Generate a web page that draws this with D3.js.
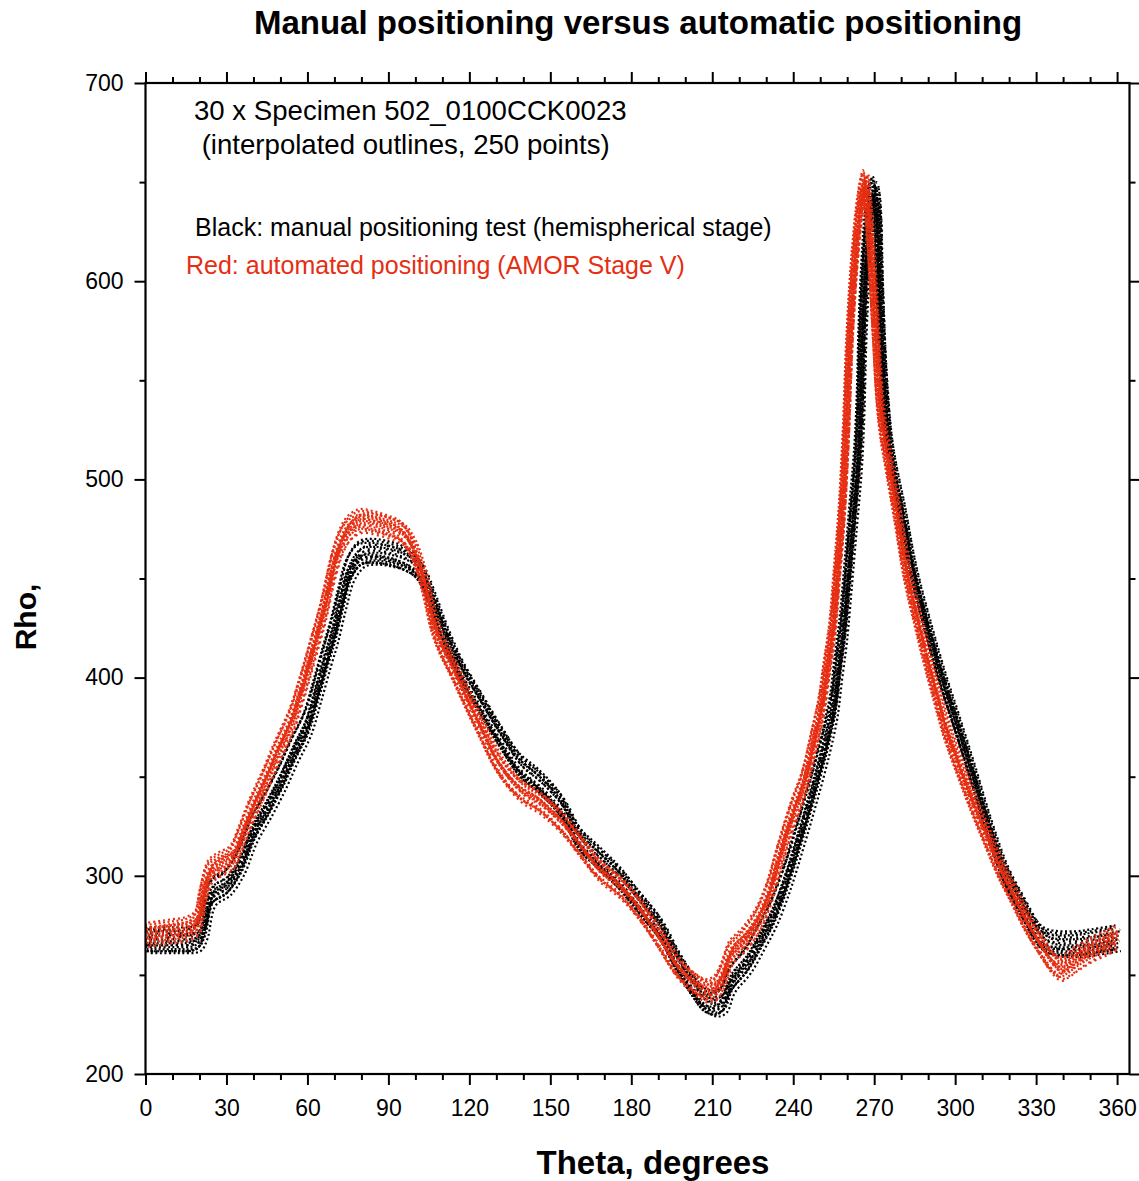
<!DOCTYPE html>
<html>
<head>
<meta charset="utf-8">
<script src="https://cdn.jsdelivr.net/npm/d3@7"></script>
<style>
  body { margin: 0; background: #fff; }
  text { font-family: "Liberation Sans", Arial, Helvetica, sans-serif; }
</style>
</head>
<body>
<script>

  // ---- data ----

  // mean outline of the 30 manual (black) runs
  var blackTheta = [0, 10, 19, 21.5, 24.6, 30, 35, 40, 45, 50, 55, 60, 63.7, 67.4, 70, 73, 76, 80, 85, 90, 95, 100,
    103, 106, 110, 113, 116.7, 124, 131.5, 139, 146, 154, 161, 168.5, 176, 183, 190.7, 197, 203, 207, 211, 214,
    217, 223, 228, 232.6, 237.6, 242.6, 247.5, 252, 255, 256.7, 258.5, 260.4, 262.2, 264, 265, 265.6, 266.7, 268,
    270, 271, 271.8, 273, 274.3, 275.5, 277, 280.5, 284.5, 290, 295.5, 300.5, 306.5, 312.5, 318.5, 325, 331, 335, 345, 351, 360];
  var blackRho = [267, 267, 268, 274, 291, 296, 306, 323, 335, 348, 363, 377, 394, 412, 424, 441, 455, 462, 463, 462, 460, 456,
    450, 440, 425, 415, 404, 387, 370, 355, 347, 335, 318, 308, 298, 286, 273, 257, 244, 237, 235, 237,
    247, 257, 269, 281, 299, 321, 344, 367, 386, 405, 424, 453, 482, 511, 540, 572, 606, 630,
    646, 640, 606, 563, 535, 518, 505, 482, 453, 424, 398, 377, 351, 324, 301, 284, 270, 266, 265, 266, 268];

  // mean outline of the 30 automated (red) runs
  var redTheta = [0, 5, 10, 15, 19, 21, 24, 28, 32, 35, 39, 44, 49, 54, 58, 62, 66, 70, 73, 76, 80, 85, 90, 95, 99,
    103, 107, 110, 114, 117, 124, 131, 139, 146, 154, 161, 168, 176, 183, 190, 197, 203, 208, 211, 214, 217, 222,
    227, 231, 235, 240, 244, 247.5, 250.5, 252.5, 254.5, 256.3, 258, 259.5, 261, 263, 265, 266.5, 267.5, 269, 270.5,
    272, 273.5, 275, 278.5, 282, 286, 289.6, 293.3, 297, 302, 306.7, 311.8, 316.7, 321.5, 326.6, 331.5, 336, 339,
    342, 345, 351, 356, 360];
  var redRho = [270, 271, 272, 273, 276, 288, 302, 306, 309, 318, 332, 347, 363, 378, 395, 414, 434, 458, 470, 476, 479, 478, 476, 473, 465,
    449, 426, 415, 404, 395, 375, 356, 343, 337, 327, 315, 303, 294, 283, 269, 254, 246, 242, 243, 250, 261, 268,
    278, 291, 310, 332, 347, 367, 386, 405, 424, 453, 482, 520, 572, 614, 640, 650, 640, 610, 575,
    540, 522, 510, 482, 453, 429, 409, 390, 372, 353, 336, 319, 303, 290, 276, 265, 256, 253,
    255, 258, 263, 266, 269];

  // spread of the individual runs around the mean (theta, rho)
  var blackShiftTheta = [-1.4, -1.0, -0.6, -0.2, 0.2, 0.6, 1.0, 1.4, -1.2, -0.8, -0.4, 0, 0.4, 0.8, 1.2, -0.1];
  var blackShiftRho = [5, -2, 7, -5, 1, -4, 4, -6, -1, 6, -3, 3, -2, 0, 2, -5];
  var redShiftTheta = [-1.2, -0.9, -0.5, -0.2, 0.2, 0.5, 0.9, 1.2, -1.0, -0.7, -0.3, 0.1, 0.4, 0.8, 1.0, 0];
  var redShiftRho = [3, -2, 5, -4, 1, -1, -5, 4, -3, 6, 2, 0, -6, 3, -2, 1];

  // ticks
  var xMajor = [0, 30, 60, 90, 120, 150, 180, 210, 240, 270, 300, 330, 360];
  var xMinor = [10, 20, 40, 50, 70, 80, 100, 110, 130, 140, 160, 170, 190, 200, 220, 230, 250, 260, 280, 290, 310, 320, 340, 350];
  var yMajor = [200, 300, 400, 500, 600, 700];
  var yMinor = [250, 350, 450, 550, 650];

  // ---- layout ----
  var svgWidth = 1139;
  var svgHeight = 1181;
  var plotLeft = 145.5, plotRight = 1129.5, plotTop = 83, plotBottom = 1074;

  var svg = d3.select('body')
    .append('svg')
    .attr('width', svgWidth)
    .attr('height', svgHeight);

  var xScale = d3.scaleLinear().domain([0, 364.6]).range([plotLeft, plotRight]);
  var yScale = d3.scaleLinear().domain([200, 700]).range([plotBottom, plotTop]);

  svg.append('clipPath').attr('id', 'plot')
    .append('rect')
    .attr('x', plotLeft).attr('y', plotTop)
    .attr('width', plotRight - plotLeft).attr('height', plotBottom - plotTop);

  // dash patterns give the speckled look of the point clouds
  var dashes = ['2 2', '2 3', '2 2.5', '2 1.5', '2 3.5', '2 2', '2 4', '2 2.5'];

  function drawRuns(thetas, rhos, shiftT, shiftR, color) {
    var g = svg.append('g').attr('clip-path', 'url(#plot)');
    var line = d3.line()
      .x(function (d) { return xScale(d[0]); })
      .y(function (d) { return yScale(d[1]); })
      .curve(d3.curveCatmullRom.alpha(0.5));
    shiftT.forEach(function (dt, k) {
      var pts = thetas.map(function (t, i) { return [t + dt, rhos[i] + shiftR[k]]; });
      g.append('path')
        .attr('d', line(pts))
        .attr('fill', 'none')
        .attr('stroke', color)
        .attr('stroke-width', 2.2)
        .attr('stroke-dasharray', dashes[k % dashes.length])
        .attr('stroke-dashoffset', k * 1.7);
    });
  }

  drawRuns(blackTheta, blackRho, blackShiftTheta, blackShiftRho, '#000');
  drawRuns(redTheta, redRho, redShiftTheta, redShiftRho, '#e62e12');

  // ---- axes: ticks outward on all four sides ----
  function addAxis(axisFn, scale, transform, major, minor, labels) {
    var a = svg.append('g').attr('transform', transform)
      .call(axisFn(scale).tickValues(major).tickSize(11).tickSizeOuter(0)
        .tickFormat(labels ? d3.format('d') : ''));
    var b = svg.append('g').attr('transform', transform)
      .call(axisFn(scale).tickValues(minor).tickSize(6).tickSizeOuter(0).tickFormat(''));
    [a, b].forEach(function (s) {
      s.select('.domain').remove();
      s.selectAll('line').attr('stroke', '#000').attr('stroke-width', 2);
    });
    a.selectAll('text').attr('font-size', 23).attr('fill', '#000')
      .attr('font-family', '"Liberation Sans", Arial, sans-serif');
    return a;
  }

  var xb = addAxis(d3.axisBottom, xScale, 'translate(0,' + plotBottom + ')', xMajor, xMinor, true);
  xb.selectAll('text').attr('dy', null).attr('y', 42);
  var yl = addAxis(d3.axisLeft, yScale, 'translate(' + plotLeft + ',0)', yMajor, yMinor, true);
  yl.selectAll('text').attr('x', -22);
  addAxis(d3.axisTop, xScale, 'translate(0,' + plotTop + ')', xMajor, xMinor, false);
  addAxis(d3.axisRight, yScale, 'translate(' + plotRight + ',0)', yMajor, yMinor, false);

  // frame
  svg.append('rect')
    .attr('x', plotLeft).attr('y', plotTop)
    .attr('width', plotRight - plotLeft).attr('height', plotBottom - plotTop)
    .attr('fill', 'none').attr('stroke', '#000').attr('stroke-width', 2.2);

  // ---- texts ----
  svg.append('text')
    .attr('x', 638).attr('y', 34)
    .attr('text-anchor', 'middle')
    .attr('font-size', 33).attr('font-weight', 'bold')
    .text('Manual positioning versus automatic positioning');

  svg.append('text')
    .attr('x', 653).attr('y', 1174)
    .attr('text-anchor', 'middle')
    .attr('font-size', 33).attr('font-weight', 'bold')
    .text('Theta, degrees');

  svg.append('text')
    .attr('transform', 'translate(36,617) rotate(-90)')
    .attr('text-anchor', 'middle')
    .attr('font-size', 30).attr('font-weight', 'bold')
    .text('Rho,');

  svg.append('text')
    .attr('x', 194).attr('y', 120)
    .attr('font-size', 27.6)
    .text('30 x Specimen 502_0100CCK0023');
  svg.append('text')
    .attr('x', 194).attr('y', 154)
    .attr('font-size', 27.6)
    .text('\u00a0(interpolated outlines, 250 points)');

  svg.append('text')
    .attr('x', 195).attr('y', 236)
    .attr('font-size', 25)
    .text('Black: manual positioning test (hemispherical stage)');

  svg.append('text')
    .attr('x', 186).attr('y', 274)
    .attr('font-size', 25)
    .attr('fill', '#e62e12')
    .text('Red: automated positioning (AMOR Stage V)');

</script>
</body>
</html>
